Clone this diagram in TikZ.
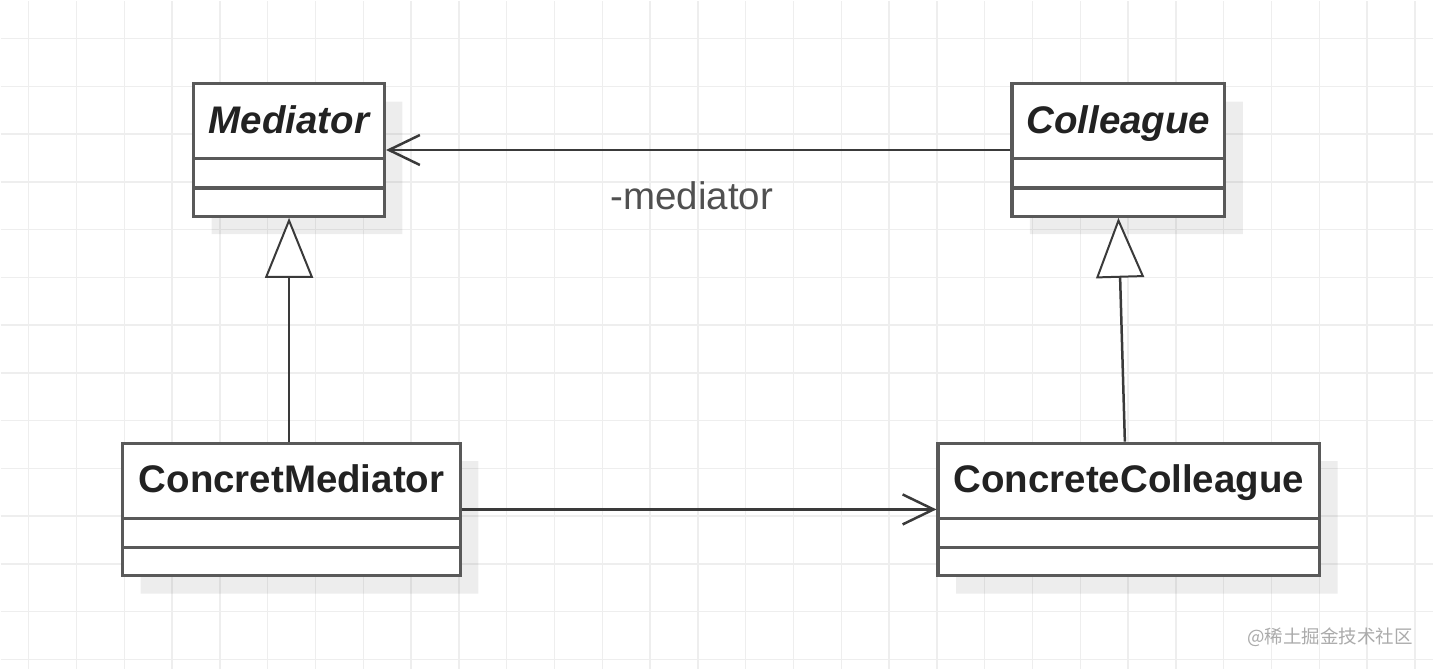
\documentclass[tikz,border=0pt]{standalone}
\usepackage{fontspec}
\setmainfont{Liberation Sans}
\newfontfamily\cjkfont{Noto Sans CJK SC}
\usepackage{tikz}
\usetikzlibrary{arrows.meta,positioning,shapes.multipart,shadows}
\definecolor{umlline}{HTML}{595959}
\definecolor{umledge}{HTML}{3A3A3A}
\definecolor{umltext}{HTML}{222222}
\definecolor{gridline}{HTML}{EEEEEE}
\definecolor{labelgray}{HTML}{505050}
\definecolor{marktext}{HTML}{ABABAB}

\begin{document}
\begin{tikzpicture}[x=1pt, y=-1pt, >={Straight Barb[length=31pt, width=30pt]}, line width=2.5pt]
	\tikzstyle{umlclass}=[rectangle split, rectangle split parts=3,
		draw=umlline, line width=3.2pt, fill=white, text=umltext,
		inner xsep=0pt, inner ysep=0pt, align=center,
		font=\fontsize{38.5}{46}\selectfont\bfseries,
		drop shadow={shadow xshift=18pt, shadow yshift=-18pt, fill=black, opacity=0.07}]
	\tikzstyle{edge}=[draw=umledge, line width=2.5pt]
	\tikzstyle{inherit}=[edge, -{Triangle[length=60pt, width=48pt, fill=white, line width=2pt]}]
	% % Background grid
	\fill[white] (0,0) rectangle (1434,669);
	\foreach \gx in {0,...,29}
		\draw[gridline, line width=1.5pt] (28+47.85*\gx,0) -- ++(0,669);
	\foreach \gy in {0,...,13}
		\draw[gridline, line width=1.5pt] (0,38+47.8*\gy) -- ++(1434,0);
	\useasboundingbox (0,0) rectangle (1434,669);
	% % Nodes
	% abstract mediator
	\node[umlclass, text width=191pt, anchor=north west] (mediator) at (191.5,81.5)
	{\rule[-24pt]{0pt}{72pt}\itshape Mediator
		\nodepart{second}\rule{0pt}{26pt}
		\nodepart{third}\rule{0pt}{25pt}};
	% abstract colleague
	\node[umlclass, text width=213pt, right=625pt of mediator.north east, anchor=north west] (colleague)
	{\rule[-24pt]{0pt}{72pt}\itshape Colleague
		\nodepart{second}\rule{0pt}{26pt}
		\nodepart{third}\rule{0pt}{25pt}};
	% concrete mediator
	\node[umlclass, text width=338pt, below=224pt of mediator.south, xshift=2.5pt] (concretmediator)
	{\rule[-24pt]{0pt}{72pt}ConcretMediator
		\nodepart{second}\rule{0pt}{26pt}
		\nodepart{third}\rule{0pt}{25pt}};
	% concrete colleague
	\node[umlclass, text width=382pt, right=475pt of concretmediator.north east, anchor=north west] (concretecolleague)
	{\rule[-24pt]{0pt}{72pt}ConcreteColleague
		\nodepart{second}\rule{0pt}{26pt}
		\nodepart{third}\rule{0pt}{25pt}};
	% watermark
	\node[font=\cjkfont\fontsize{18.5}{20}\selectfont, text=marktext, anchor=east] (watermark)
	at (1418,637) {@稀土掘金技术社区};
	% % Connectors
	\draw[edge, ->] (colleague.west) -- node[pos=0.51, below=30pt, inner sep=0pt, text=labelgray,
		font=\fontsize{38.5}{46}\selectfont]{-mediator} (mediator.east);
	\draw[edge, ->] (concretmediator.east) -- (concretecolleague.west);
	\draw[inherit] (mediator.south |- concretmediator.north) -- (mediator.south);
	\draw[inherit] ([xshift=-4pt]concretecolleague.north) -- (colleague.south);
\end{tikzpicture}
\end{document}
